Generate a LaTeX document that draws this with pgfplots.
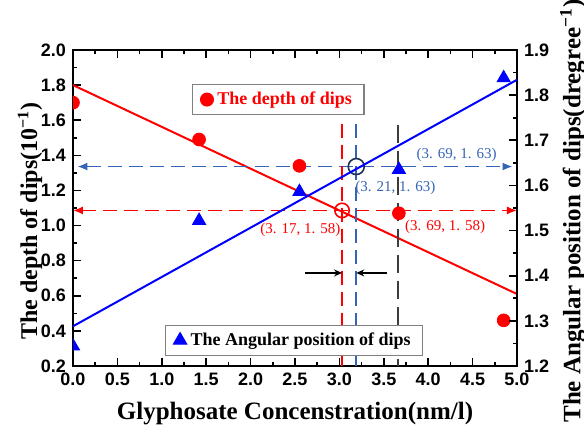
\documentclass[border=0pt]{standalone}
\usepackage{fontspec}
\setmainfont{Liberation Serif}
\setsansfont{Liberation Sans}
\usepackage{pgfplots}
\pgfplotsset{compat=1.18}
\usetikzlibrary{arrows.meta}

\definecolor{dashblue}{RGB}{52,100,180}
\definecolor{navy}{RGB}{30,50,85}
\definecolor{darkgray}{RGB}{60,60,60}

\pgfplotsset{
  common/.style={
    at={(0,0)}, anchor=south west,
    scale only axis, width=222pt, height=158pt,
    xmin=0, xmax=5,
    tick align=inside,
    axis line style={line width=1pt},
    major tick length=4pt, minor tick length=2pt,
    every tick/.style={line width=0.8pt, black},
    ticklabel style={font=\fontsize{9}{10}\selectfont\sffamily\bfseries},
    /pgf/number format/assume math mode=true,
    /pgf/number format/.cd, fixed, fixed zerofill, precision=1, /pgfplots/.cd,
    label style={font=\fontsize{12.5}{14}\selectfont\bfseries},
    clip marker paths=true,
    legend cell align=left,
  },
}

\begin{document}
\begin{tikzpicture}
\path[use as bounding box] (-36.5pt,-30pt) rectangle (255.5pt,183pt);

\begin{axis}[common,
  ymin=0.2, ymax=2.0,
  xtick={0,0.5,1,1.5,2,2.5,3,3.5,4,4.5,5},
  ytick={0.2,0.4,0.6,0.8,1.0,1.2,1.4,1.6,1.8,2.0},
  minor x tick num=1, minor y tick num=1,
  xtick pos=both, ytick pos=left,
  xlabel={Glyphosate Concenstration(nm/l)},
  ylabel={The depth of dips(10\textsuperscript{−1})},
  xlabel style={at={(rel axis cs:0.5,0)}, anchor=base, yshift=-27pt},
  ylabel style={at={(rel axis cs:0,0.459)}, anchor=center, yshift=21.5pt,
    font=\fontsize{12}{14}\selectfont\bfseries},
  legend style={at={(0.268,0.892)}, anchor=north west, draw=gray, line width=0.6pt,
    font=\fontsize{9}{10}\selectfont\bfseries, text=red, inner xsep=4pt, inner ysep=1.5pt},
]
% fitted line
\addplot[red, line width=1pt, forget plot] coordinates {(0,1.80) (5,0.61)};
% guide lines
\addplot[red, dash pattern=on 7pt off 3.5pt, line width=0.8pt, {Latex[length=5pt,width=4pt]}-{Latex[length=5pt,width=4pt]}, forget plot]
  coordinates {(0,1.086) (5,1.086)};
\addplot[dashblue, dash pattern=on 7pt off 3.5pt, line width=0.8pt, {Latex[length=5pt,width=4pt]}-{Latex[length=5pt,width=4pt]}, forget plot]
  coordinates {(0.05,1.336) (4.95,1.336)};
\addplot[red, dash pattern=on 7pt off 3.5pt, line width=0.8pt, forget plot] coordinates {(3.03,1.58) (3.03,0.2)};
\addplot[dashblue, dash pattern=on 7pt off 3.5pt, line width=0.8pt, forget plot] coordinates {(3.19,1.58) (3.19,0.2)};
\addplot[darkgray, dash pattern=on 9pt off 4pt, line width=0.8pt, forget plot] coordinates {(3.66,1.575) (3.66,0.2)};
\addplot[black, line width=0.6pt, -{Stealth[length=4pt,width=3.5pt]}, forget plot] coordinates {(2.61,0.73) (3.03,0.73)};
\addplot[black, line width=0.6pt, -{Stealth[length=4pt,width=3.5pt]}, forget plot] coordinates {(3.54,0.73) (3.19,0.73)};
% intersection circles
\addplot[only marks, mark=o, mark size=3.6pt, red, mark options={line width=0.8pt}, forget plot] coordinates {(3.03,1.086)};
\addplot[only marks, mark=o, mark size=4pt, navy, mark options={line width=0.8pt}, forget plot] coordinates {(3.19,1.336)};
% data
\addplot[only marks, mark=*, mark size=3.2pt, red] coordinates {
  (0,1.70) (1.42,1.49) (2.55,1.34) (3.67,1.07) (4.85,0.46)};
\addlegendentry{The depth of dips}
% annotations
\node[font=\fontsize{7.5}{8}\selectfont, text=dashblue] at (axis cs:4.32,1.40) {(3. 69, 1. 63)};
\node[font=\fontsize{7.5}{8}\selectfont, text=dashblue] at (axis cs:3.63,1.217) {(3. 21, 1. 63)};
\node[font=\fontsize{7.5}{8}\selectfont, text=red] at (axis cs:2.56,0.973) {(3. 17, 1. 58)};
\node[font=\fontsize{7.5}{8}\selectfont, text=red] at (axis cs:4.19,0.995) {(3. 69, 1. 58)};
\end{axis}

\begin{axis}[common,
  ymin=1.2, ymax=1.9,
  ytick={1.2,1.3,1.4,1.5,1.6,1.7,1.8,1.9},
  minor y tick num=1,
  axis x line=none, axis y line*=right,
  ylabel={The Angular position of dips(dregree\textsuperscript{−1})},
  ylabel style={at={(rel axis cs:1,0.49)}, anchor=center, yshift=-28pt,
    font=\fontsize{12.5}{14}\selectfont\bfseries},
  legend style={at={(0.207,0.13)}, anchor=north west, draw=gray, line width=0.6pt,
    font=\fontsize{9}{10}\selectfont\bfseries, text=black, inner xsep=4pt, inner ysep=1.5pt},
]
\addplot[blue, line width=1pt, forget plot] coordinates {(0,1.288) (5,1.834)};
\addplot[only marks, mark=triangle*, mark size=3.8pt, blue] coordinates {
  (0,1.244) (1.42,1.522) (2.55,1.586) (3.67,1.635) (4.85,1.838)};
\addlegendentry{The Angular position of dips}
\end{axis}
\end{tikzpicture}
\end{document}
